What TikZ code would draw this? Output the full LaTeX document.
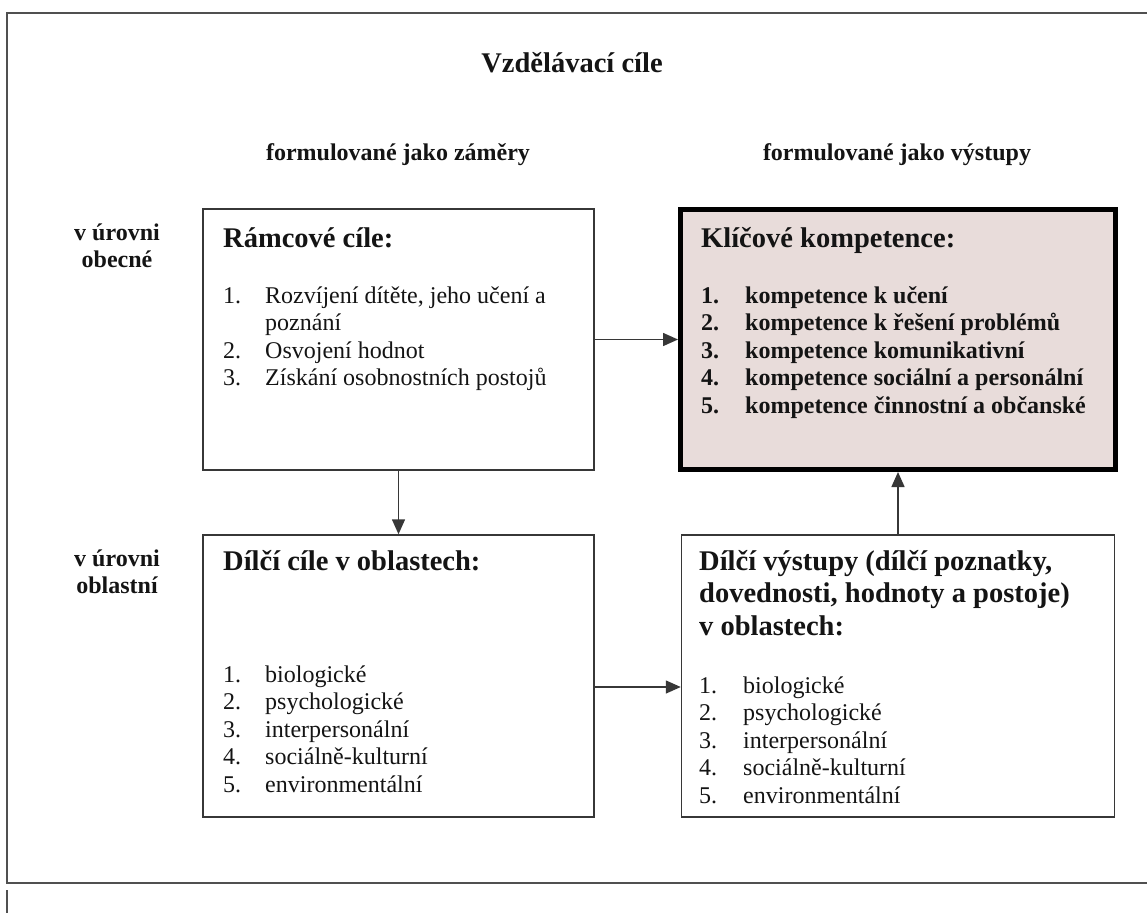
\documentclass[tikz,border=0pt]{standalone}
\usepackage{fontspec}
\setmainfont{Liberation Serif}
\usetikzlibrary{arrows.meta}
\definecolor{linec}{RGB}{55,55,55}
\definecolor{framec}{RGB}{80,80,80}
\definecolor{kfill}{RGB}{232,220,218}
\definecolor{txt}{RGB}{20,20,20}
\begin{document}
\begin{tikzpicture}[x=1pt,y=-1pt,
  box/.style={draw=linec, line width=1.5pt, inner sep=0pt, anchor=center},
  kbox/.style={draw=black, fill=kfill, line width=5pt, inner sep=0pt, anchor=center},
  arr/.style={draw=linec, line width=1.5pt, -{Triangle[length=15pt,width=13pt]}},
  ttl/.style={font=\fontsize{28.5}{32}\selectfont\bfseries, text=txt, inner sep=0pt},
  hd/.style={font=\fontsize{28.5}{32.8}\selectfont\bfseries, text=txt, inner sep=0pt, anchor=base west},
  lbl/.style={font=\fontsize{24}{27.6}\selectfont\bfseries, text=txt, inner sep=0pt, anchor=base},
  itm/.style={font=\fontsize{24}{27.6}\selectfont, text=txt, inner sep=0pt, anchor=base west},
  itmb/.style={font=\fontsize{24}{27.6}\selectfont\bfseries, text=txt, inner sep=0pt, anchor=base west}
]
\useasboundingbox (0,0) rectangle (1147,913);
\fill[white] (0,0) rectangle (1147,913);

% outer frame
\draw[framec, line width=1.8pt] (1147,13) -- (7,13) -- (7,883) -- (1147,883);
\draw[framec, line width=1.8pt] (7,890) -- (7,913);

% titles
\node[ttl, anchor=base] (title) at (572,72) {Vzdělávací cíle};
\node[lbl] (colL) at (398,160) {formulované jako záměry};
\node[lbl] (colR) at (897,160) {formulované jako výstupy};

% side labels
\node[lbl] (s1a) at (117,240) {v úrovni};
\node[lbl] (s1b) at (117,267) {obecné};
\node[lbl] (s2a) at (117,566) {v úrovni};
\node[lbl] (s2b) at (117,593) {oblastní};

% boxes
\node[box, minimum width=391pt, minimum height=261pt] (b1) at (398.5,339.5) {};
\node[kbox, minimum width=435pt, minimum height=260pt] (b2) at (898,339.5) {};
\node[box, minimum width=391pt, minimum height=282pt] (b3) at (398.5,676) {};
\node[box, minimum width=433pt, minimum height=282pt] (b4) at (898,676) {};

% box 1 text
\node[hd] (h1) at (223,247) {Rámcové cíle:};
\node[itm] (b1n1) at (223,303) {1.};
\node[itm] (b1t1) at (265,303) {Rozvíjení dítěte, jeho učení a};
\node[itm] (b1t1b) at (265,330.6) {poznání};
\node[itm] (b1n2) at (223,358.2) {2.};
\node[itm] (b1t2) at (265,358.2) {Osvojení hodnot};
\node[itm] (b1n3) at (223,385.8) {3.};
\node[itm] (b1t3) at (265,385.8) {Získání osobnostních postojů};

% box 2 text
\node[hd] (h2) at (701,247) {Klíčové kompetence:};
\foreach \t [count=\i] in {kompetence k učení, kompetence k řešení problémů, kompetence komunikativní, kompetence sociální a personální, kompetence činnostní a občanské}{
  \node[itmb] (b2n\i) at (701,{303+27.6*(\i-1)}) {\i.};
  \node[itmb] (b2t\i) at (745,{303+27.6*(\i-1)}) {\t};
}

% box 3 text
\node[hd] (h3) at (223,570) {Dílčí cíle v oblastech:};
\foreach \t [count=\i] in {biologické, psychologické, interpersonální, sociálně-kulturní, environmentální}{
  \node[itm] (b3n\i) at (223,{682+27.6*(\i-1)}) {\i.};
  \node[itm] (b3t\i) at (265,{682+27.6*(\i-1)}) {\t};
}

% box 4 text
\node[hd] (h4a) at (699,570) {Dílčí výstupy (dílčí poznatky,};
\node[hd] (h4b) at (699,602.8) {dovednosti, hodnoty a postoje)};
\node[hd] (h4c) at (699,635.6) {v oblastech:};
\foreach \t [count=\i] in {biologické, psychologické, interpersonální, sociálně-kulturní, environmentální}{
  \node[itm] (b4n\i) at (699,{693+27.6*(\i-1)}) {\i.};
  \node[itm] (b4t\i) at (743,{693+27.6*(\i-1)}) {\t};
}

% connectors
\draw[arr] (b1.east) -- (b2.west);
\draw[arr] (b1.south) -- (b3.north);
\draw[arr] (b4.north) -- (b2.south);
\draw[arr] ([yshift=-11pt]b3.east) -- ([yshift=-11pt]b4.west);
\end{tikzpicture}
\end{document}
